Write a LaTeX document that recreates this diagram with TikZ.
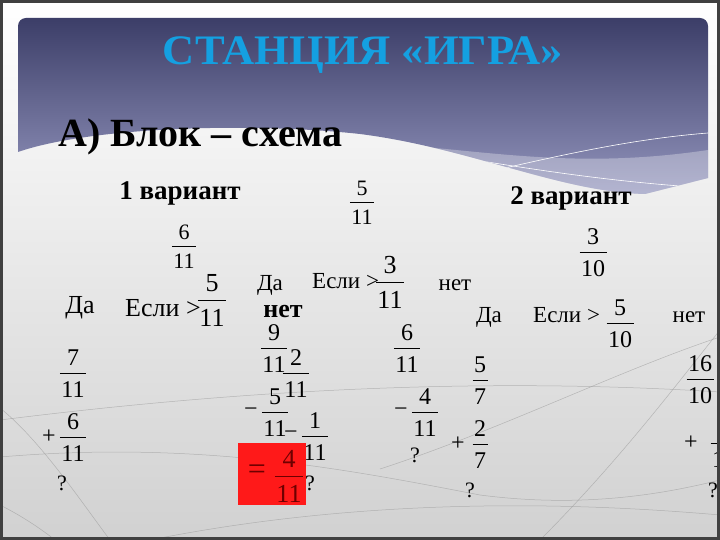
\documentclass[tikz,border=0pt]{standalone}
\usepackage{fontspec}
\setmainfont{Liberation Serif}
\newfontfamily\widefont[FakeStretch=1.06]{Liberation Serif}
\usetikzlibrary{calc}
\definecolor{titlecyan}{RGB}{20,160,225}
\definecolor{hdtop}{RGB}{60,62,104}
\definecolor{hdbot}{RGB}{150,152,192}
\definecolor{boxred}{RGB}{255,25,25}
\definecolor{darkred}{RGB}{110,0,0}
\setlength{\arrayrulewidth}{0.7pt}
\newcommand{\fr}[2]{\begin{tabular}{@{\hspace{1.5pt}}c@{\hspace{1.5pt}}}#1\\[-1pt]\hline\rule{0pt}{1em}#2\end{tabular}}

\begin{document}
\begin{tikzpicture}[x=1pt,y=-1pt,
fr/.style={inner sep=0pt,font=\fontsize{24}{28}\selectfont},
frs/.style={inner sep=0pt,font=\fontsize{22}{26}\selectfont},
frb/.style={inner sep=0pt,font=\fontsize{26}{30}\selectfont},
sgn/.style={inner sep=0pt,font=\fontsize{24}{28}\selectfont},
lbl/.style={inner sep=0pt,anchor=base,font=\fontsize{23}{27}\selectfont},
lblb/.style={inner sep=0pt,anchor=base,font=\fontsize{26}{30}\selectfont},
qm/.style={inner sep=0pt,anchor=base,font=\fontsize{22}{26}\selectfont},
var/.style={inner sep=0pt,anchor=base,font=\bfseries\fontsize{27}{31}\selectfont},
deco/.style={black!40,line width=0.5pt,opacity=0.6}]
	\useasboundingbox (0,0) rectangle (720,540);
	%slide background
	\shade[top color=white,bottom color=black!18] (0,0) rectangle (720,540);
	\draw[deco] (0,457) .. controls (200,440) and (350,470) .. (480,495) .. controls (580,508) and (660,495) .. (720,480);
	\draw[deco] (0,408) .. controls (40,440) and (80,500) .. (110,540);
	\draw[deco] (0,505) .. controls (20,515) and (40,528) .. (55,540);
	\draw[deco] (540,540) .. controls (620,460) and (680,380) .. (720,330);
	\draw[deco] (0,420) .. controls (200,395) and (450,375) .. (720,392);
	\draw[deco] (380,469) .. controls (500,430) and (620,370) .. (720,337);
	\draw[deco] (150,540) .. controls (350,500) and (550,500) .. (720,515);
	%header
	\begin{scope}
		\clip (18,152) .. controls (90,127) and (250,122) .. (360,134) .. controls (470,148) and (560,192) .. (645,194) -- (708,178) -- (708,18) -- (18,18) -- cycle;
		\shade[top color=hdtop,bottom color=hdbot,rounded corners=8pt] (18,18) rectangle (708,200);
		\fill[white,opacity=0.3] (330,140) .. controls (470,146) and (560,172) .. (708,150) -- (708,200) -- (330,200) -- cycle;
		\draw[white,line width=0.6pt] (345,142) .. controls (450,152) and (550,178) .. (708,188);
		\draw[white,line width=0.6pt] (440,183) .. controls (540,160) and (620,140) .. (708,133);
	\end{scope}
	\node[font=\widefont\bfseries\fontsize{42}{46}\selectfont,text=titlecyan,anchor=base,inner sep=0pt] (ttl) at (363,65) {СТАНЦИЯ «ИГРА»};
	\node[font=\bfseries\fontsize{40}{44}\selectfont,anchor=base west,inner sep=0pt] (blk) at (58,147) {А) Блок – схема};
	%variant 1
	\node[var] (v1) at (180,200) {1 вариант};
	\node[frs] (f1) at (184,249) {\fr{6}{11}};
	\node[lblb] (da1) at (80,313) {Да};
	\node[lblb,anchor=base west] (if1) at (125,316) {Если >};
	\node[frb] (f2) at (212,303) {\fr{5}{11}};
	\node[fr] (f3) at (73,376) {\fr{7}{11}};
	\node[fr] (f4) at (73,440) {\fr{6}{11}};
	\node[sgn] (s4) at (49,437) {+};
	\node[qm] (q1) at (62,490) {?};
	%middle
	\node[frs] (f5) at (362,205) {\fr{5}{11}};
	\node[lbl] (da2) at (270,290) {Да};
	\node[lbl,anchor=base west] (if2) at (312,288) {Если >};
	\node[frb] (f6) at (390,285) {\fr{3}{11}};
	\node[lbl] (no1) at (455,290) {нет};
	\node[lblb,font=\bfseries\fontsize{26}{30}\selectfont] (no2) at (283,317) {нет};
	\node[fr] (f7) at (274,351) {\fr{9}{11}};
	\node[fr] (f8) at (296,376) {\fr{2}{11}};
	\node[fr] (f9) at (275,415) {\fr{5}{11}};
	\node[sgn] (s9) at (251,412) {−};
	\node[fr] (f10) at (315,439) {\fr{1}{11}};
	\node[sgn] (s10) at (291,435) {−};
	\node[qm] (q2) at (310,490) {?};
	\node[fill=boxred,minimum width=68pt,minimum height=62pt,inner sep=0pt] (rb) at (272,474) {};
	\node[sgn,font=\fontsize{32}{36}\selectfont,text=darkred] (eq) at (257,472) {=};
	\node[frb,text=darkred] (f11) at (289,479) {\fr{4}{11}};
	\node[fr] (f12) at (407,351) {\fr{6}{11}};
	\node[fr] (f13) at (425,415) {\fr{4}{11}};
	\node[sgn] (s13) at (401,412) {−};
	\node[qm] (q3) at (415,462) {?};
	%variant 2
	\node[var] (v2) at (571,205) {2 вариант};
	\node[fr] (f14) at (593,255) {\fr{3}{10}};
	\node[lbl] (da3) at (489,322) {Да};
	\node[lbl,anchor=base west] (if3) at (533,322) {Если >};
	\node[fr] (f15) at (620,326) {\fr{5}{10}};
	\node[lbl] (no3) at (689,322) {нет};
	\node[fr] (f16) at (480,383) {\fr{5}{7}};
	\node[fr] (f17) at (480,447) {\fr{2}{7}};
	\node[sgn] (s17) at (458,444) {+};
	\node[qm] (q4) at (470,497) {?};
	\node[fr] (f18) at (700,382) {\fr{16}{10}};
	\node[fr] (f19) at (724,446) {\fr{6}{10}};
	\node[sgn] (s19) at (691,443) {+};
	\node[qm] (q5) at (713,497) {?};
	%frame
	\draw[black!75,line width=3pt] (1.5,1.5) rectangle (718.5,538.5);
\end{tikzpicture}
\end{document}
